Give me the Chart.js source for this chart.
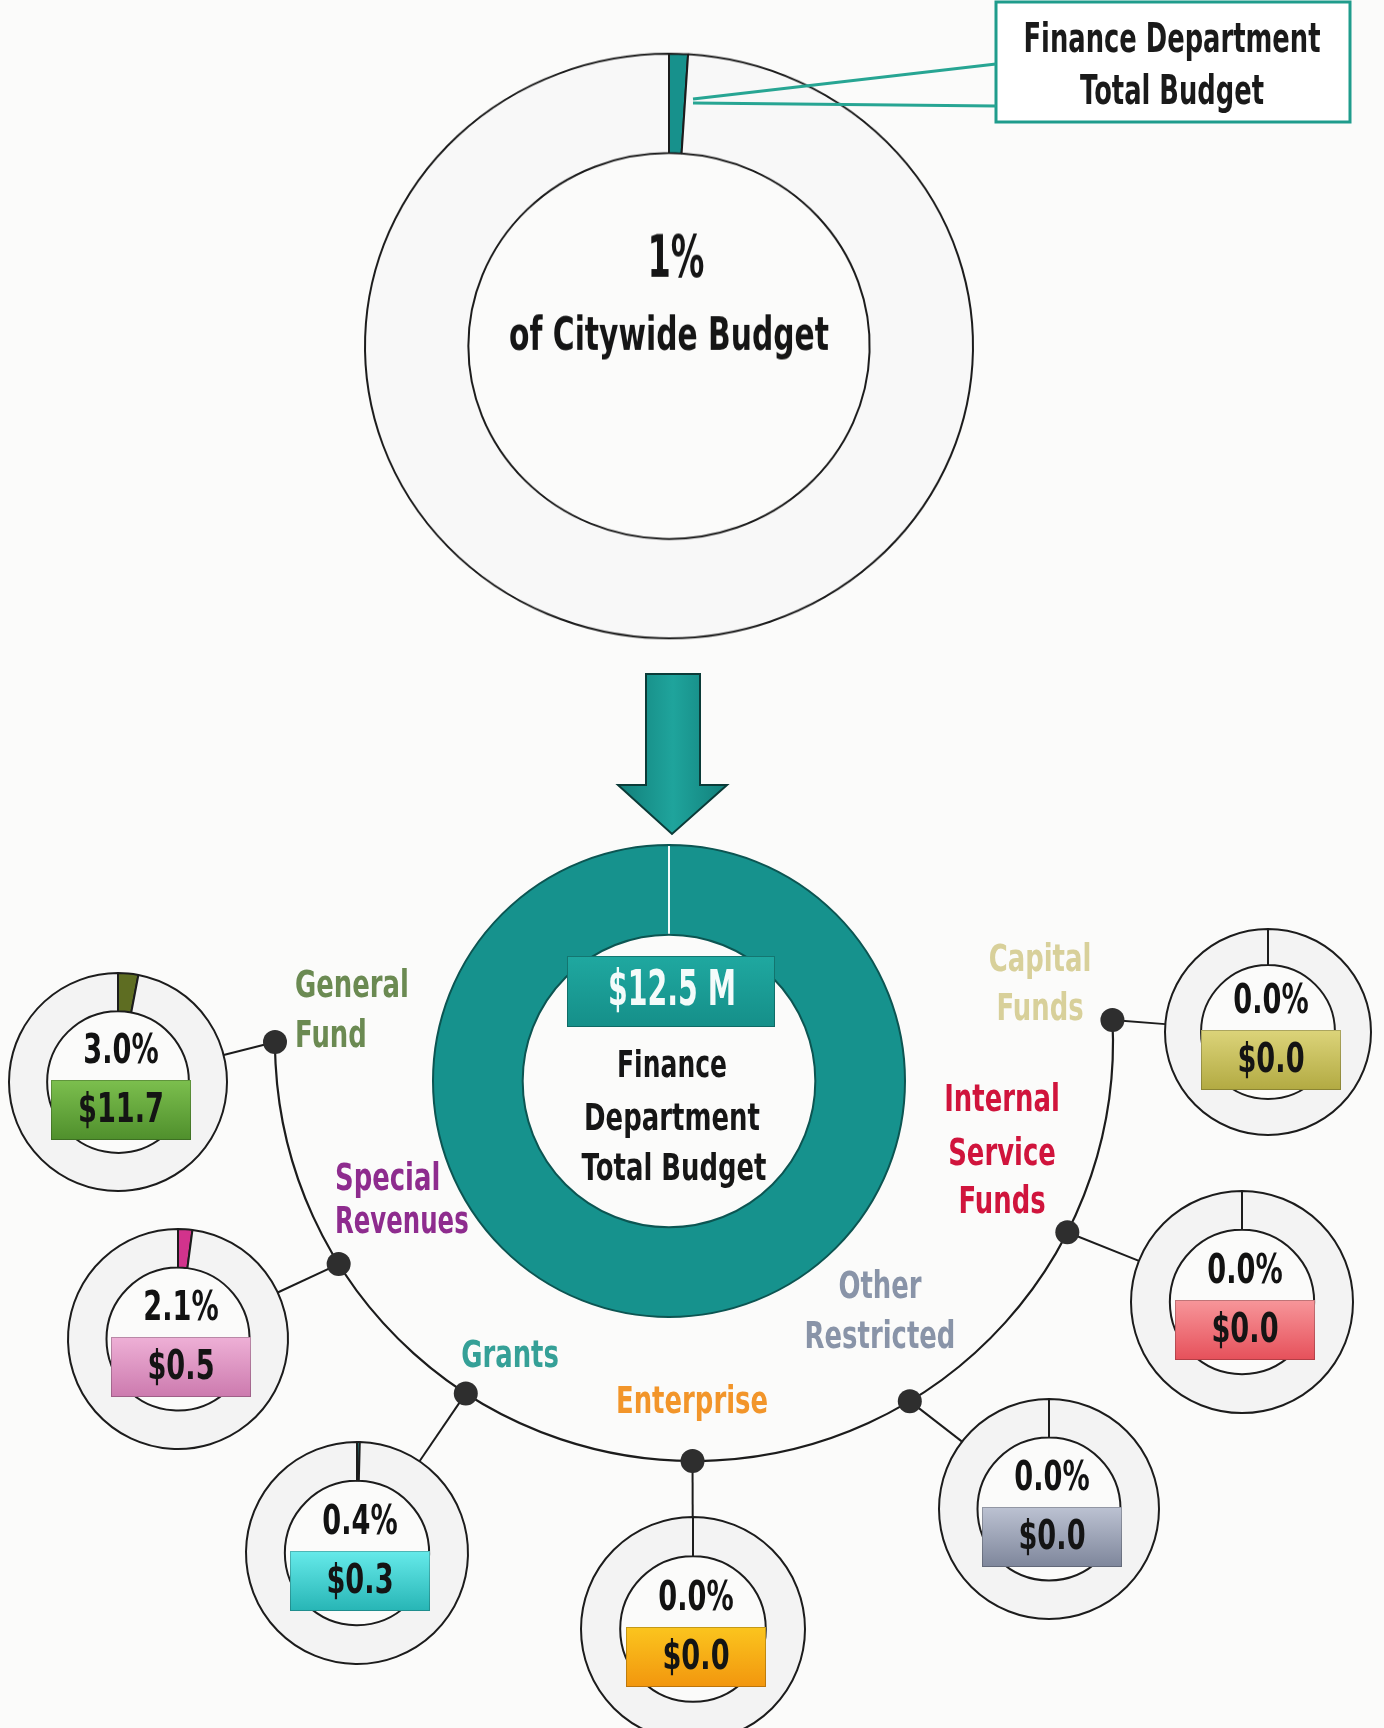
<!DOCTYPE html>
<html>
<head>
<meta charset="utf-8">
<script src="https://cdn.jsdelivr.net/npm/chart.js@4.4.1/dist/chart.umd.min.js"></script>
<style>
  html, body { margin: 0; padding: 0; background: #fbfbfa; }
  #wrap { position: relative; width: 1384px; height: 1728px; overflow: hidden; }
  #wrap canvas { position: absolute; }
</style>
</head>
<body>
<div id="wrap"><canvas id="bg" width="1384" height="1728" style="left:0;top:0"></canvas></div>
<script>
// ---- Data ----------------------------------------------------------------
// Finance Department share of the citywide budget (%): department, remainder
const citywideShare = [1, 99];
const citywideLabels = ['Finance Department', 'Rest of citywide budget'];
// Finance Department total budget ($ millions)
const departmentTotal = [12.5];
// Funds, going round the lower arc
const funds = ['General Fund', 'Special Revenues', 'Grants', 'Enterprise',
               'Other Restricted', 'Internal Service Funds', 'Capital Funds'];
const fundLabelLines = [['General', 'Fund'], ['Special', 'Revenues'], ['Grants'], ['Enterprise'],
                        ['Other', 'Restricted'], ['Internal', 'Service', 'Funds'], ['Capital', 'Funds']];
// Department share of each citywide fund (%)
const fundShares = [3.0, 2.1, 0.4, 0.0, 0.0, 0.0, 0.0];
// Department budget in each fund ($ millions)
const fundAmounts = [11.7, 0.5, 0.3, 0.0, 0.0, 0.0, 0.0];

// ---- Styling -------------------------------------------------------------
const TEAL = '#17918c';
const sliceColors = ['#5e6d22', '#d2338c', '#2aa3a3', '#f39a1e', '#8b96aa', '#d2143c', '#c9c25a'];
const boxColors = [['#7cbf4e', '#4f8f2c'], ['#eeb0d6', '#cc7aae'], ['#66eaea', '#27b5b5'],
                   ['#fbc51e', '#f2960e'], ['#bcc2d2', '#7e869b'], ['#f7969a', '#e6505a'],
                   ['#dcd47a', '#b2aa42']];
const labelColors = ['#6b8a52', '#8e2c8e', '#35a097', '#f2952a', '#8994a8', '#d0143c', '#d8d09a'];

// ---- Layout --------------------------------------------------------------
const FONT = '"DejaVu Sans", "Liberation Sans", sans-serif';
const arcCenter = { x: 694, y: 1042 }, arcRadius = 419;
const nodeAngles = [180, 148, 123, 90.2, 59, 27, -3];        // degrees, clockwise from 3 o'clock
const fundCenters = [[118, 1082], [178, 1339], [357, 1553], [693, 1629],
                     [1049, 1509], [1242, 1302], [1268, 1032]];
const fundRadii = [109, 110, 111, 112, 110, 111, 103];
const labelAnchors = [
  { x: 295, ys: [987, 1037], align: 'left' },
  { x: 335, ys: [1180, 1223], align: 'left' },
  { x: 510, ys: [1357], align: 'center' },
  { x: 692, ys: [1403], align: 'center' },
  { x: 880, ys: [1288, 1338], align: 'center' },
  { x: 1002, ys: [1101, 1155, 1203], align: 'center' },
  { x: 1040, ys: [961, 1010], align: 'center' }
];

const wrap = document.getElementById('wrap');

// Condensed bold text, squeezed horizontally to a width or by a factor
function text(ctx, s, x, y, size, color, opts) {
  opts = opts || {};
  ctx.save();
  ctx.font = 'bold ' + size + 'px ' + FONT;
  const w = ctx.measureText(s).width;
  const sx = opts.width ? opts.width / w : (opts.sx || 0.7);
  ctx.translate(x, y);
  ctx.scale(sx, 1);
  ctx.textAlign = opts.align || 'center';
  ctx.textBaseline = 'middle';
  ctx.fillStyle = color;
  ctx.fillText(s, 0, 0);
  ctx.restore();
}

// ---- Background: callout box, arrow, connector arc, nodes, fund names ----
(function drawBackground() {
  const ctx = document.getElementById('bg').getContext('2d');

  // callout box
  ctx.fillStyle = '#ffffff';
  ctx.fillRect(996, 2, 354, 120);
  ctx.strokeStyle = '#1f9c8c';
  ctx.lineWidth = 3;
  ctx.strokeRect(996, 2, 354, 120);
  text(ctx, 'Finance Department', 1172, 42, 40, '#1a1a1a', { width: 297 });
  text(ctx, 'Total Budget', 1172, 94, 40, '#1a1a1a', { width: 184 });

  // arrow down to the department total
  const g = ctx.createLinearGradient(619, 0, 727, 0);
  g.addColorStop(0, '#12807b'); g.addColorStop(0.5, '#1fa49c'); g.addColorStop(1, '#12807b');
  ctx.beginPath();
  ctx.moveTo(646, 674); ctx.lineTo(700, 674); ctx.lineTo(700, 785); ctx.lineTo(727, 785);
  ctx.lineTo(672, 834); ctx.lineTo(618, 785); ctx.lineTo(646, 785); ctx.closePath();
  ctx.fillStyle = g; ctx.fill();
  ctx.strokeStyle = '#0b3b38'; ctx.lineWidth = 2; ctx.stroke();

  // arc joining the funds
  const rad = d => d * Math.PI / 180;
  ctx.strokeStyle = '#1c1c1c';
  ctx.lineWidth = 2.2;
  ctx.beginPath();
  ctx.arc(arcCenter.x, arcCenter.y, arcRadius, rad(-3), rad(180));
  ctx.stroke();

  // connectors from each node to its fund ring, then the node dots
  funds.forEach((f, i) => {
    const nx = arcCenter.x + arcRadius * Math.cos(rad(nodeAngles[i]));
    const ny = arcCenter.y + arcRadius * Math.sin(rad(nodeAngles[i]));
    const [cx, cy] = fundCenters[i];
    const d = Math.hypot(nx - cx, ny - cy);
    const ex = cx + fundRadii[i] * (nx - cx) / d, ey = cy + fundRadii[i] * (ny - cy) / d;
    ctx.strokeStyle = '#1c1c1c'; ctx.lineWidth = 2;
    ctx.beginPath(); ctx.moveTo(nx, ny); ctx.lineTo(ex, ey); ctx.stroke();
    ctx.fillStyle = '#2e2e2e';
    ctx.beginPath(); ctx.arc(nx, ny, 12, 0, Math.PI * 2); ctx.fill();
  });

  // fund names
  fundLabelLines.forEach((lines, i) => {
    const a = labelAnchors[i];
    lines.forEach((ln, k) => text(ctx, ln, a.x, a.ys[k], 37, labelColors[i],
      { sx: ln === 'Revenues' ? 0.66 : 0.7, align: a.align }));
  });
})();

// ---- Chart helpers -------------------------------------------------------
// sy squeezes the finished ring vertically (1 = round)
function doughnut(cx, cy, r, cutout, labels, data, colors, border, plugin, sy) {
  sy = sy || 1;
  const size = Math.ceil(2 * r + 16);
  const c = document.createElement('canvas');
  c.width = size; c.height = size;
  c.style.left = (cx - size / 2) + 'px';
  c.style.top = (cy - size * sy / 2) + 'px';
  c.style.width = size + 'px';
  c.style.height = (size * sy) + 'px';
  wrap.appendChild(c);
  return new Chart(c, {
    type: 'doughnut',
    data: { labels: labels, datasets: [{ data: data, backgroundColor: colors,
            borderColor: border, borderWidth: 2 }] },
    options: {
      responsive: false, maintainAspectRatio: false, animation: false, devicePixelRatio: 1, events: [],
      radius: r, cutout: cutout + '%',
      plugins: { legend: { display: false }, tooltip: { enabled: false } }
    },
    plugins: plugin ? [plugin] : []
  });
}

// ---- Share of the citywide budget ---------------------------------------
doughnut(669, 346, 304, 66, citywideLabels, citywideShare, [TEAL, '#f8f8f8'], '#1c1c1c', {
  id: 'citywideText',
  afterDatasetsDraw(chart) {
    const { x, y } = chart.getDatasetMeta(0).data[0];
    const ctx = chart.ctx;
    text(ctx, citywideShare[0] + '%', x + 7, y - 88, 60, '#151515', { width: 57 });
    text(ctx, 'of Citywide Budget', x, y - 8, 48, '#151515', { width: 320 });
  }
}, 0.963);

// ---- Department total ---------------------------------------------------
doughnut(669, 1081, 236, 62, ['Finance Department Total Budget'], departmentTotal, ['#16928d'], '#0c5552', {
  id: 'totalText',
  afterDatasetsDraw(chart) {
    const arc = chart.getDatasetMeta(0).data[0];
    const { x, y, innerRadius, outerRadius } = arc;
    const ctx = chart.ctx;
    // light seam at the start of the ring
    ctx.save();
    ctx.strokeStyle = '#f4fbfa'; ctx.lineWidth = 2;
    ctx.beginPath(); ctx.moveTo(x, y - outerRadius + 1); ctx.lineTo(x, y - innerRadius - 1); ctx.stroke();
    // value tag
    const g = ctx.createLinearGradient(0, y - 125, 0, y - 54);
    g.addColorStop(0, '#1fa8a0'); g.addColorStop(1, '#158f89');
    ctx.fillStyle = g;
    ctx.fillRect(x - 102, y - 125, 208, 71);
    ctx.strokeStyle = 'rgba(8,70,66,0.5)'; ctx.lineWidth = 1;
    ctx.strokeRect(x - 101.5, y - 124.5, 207, 70);
    ctx.restore();
    text(ctx, '$' + departmentTotal[0].toFixed(1) + ' M', x + 3, y - 89, 50, '#f4fbfa', { width: 128 });
    text(ctx, 'Finance', x + 3, y - 14, 38, '#161616', { width: 110 });
    text(ctx, 'Department', x + 3, y + 39, 38, '#161616', { width: 176 });
    text(ctx, 'Total Budget', x + 5, y + 89, 38, '#161616', { width: 185 });
  }
});

// ---- Department share of each fund --------------------------------------
funds.forEach((f, i) => {
  const [cx, cy] = fundCenters[i];
  doughnut(cx, cy, fundRadii[i], 65, [f, 'Rest of ' + f],
    [fundShares[i], 100 - fundShares[i]], [sliceColors[i], '#f3f3f3'], '#1c1c1c', {
    id: 'fundText' + i,
    afterDatasetsDraw(chart) {
      const { x, y } = chart.getDatasetMeta(0).data[1];
      const ctx = chart.ctx;
      const bx = x - 67, by = y - 2, bw = 140, bh = 60;
      const g = ctx.createLinearGradient(0, by, 0, by + bh);
      g.addColorStop(0, boxColors[i][0]); g.addColorStop(1, boxColors[i][1]);
      ctx.save();
      ctx.fillStyle = g;
      ctx.fillRect(bx, by, bw, bh);
      ctx.strokeStyle = 'rgba(0,0,0,0.22)'; ctx.lineWidth = 1;
      ctx.strokeRect(bx + 0.5, by + 0.5, bw - 1, bh - 1);
      ctx.restore();
      text(ctx, fundShares[i].toFixed(1) + '%', x + 3, y - 29, 40, '#121212', { sx: 0.68 });
      text(ctx, '$' + fundAmounts[i].toFixed(1), x + 3, y + 30, 40, '#141414', { sx: 0.68 });
    }
  });
});

// ---- Callout leaders, drawn over the rings ------------------------------
(function drawLeaders() {
  const c = document.createElement('canvas');
  c.width = 1384; c.height = 1728;
  c.style.left = '0px'; c.style.top = '0px';
  wrap.appendChild(c);
  const ctx = c.getContext('2d');
  ctx.strokeStyle = '#27a593';
  ctx.lineWidth = 3;
  ctx.beginPath();
  ctx.moveTo(693, 99); ctx.lineTo(996, 64);
  ctx.moveTo(693, 103); ctx.lineTo(996, 106);
  ctx.stroke();
})();
</script>
</body>
</html>
